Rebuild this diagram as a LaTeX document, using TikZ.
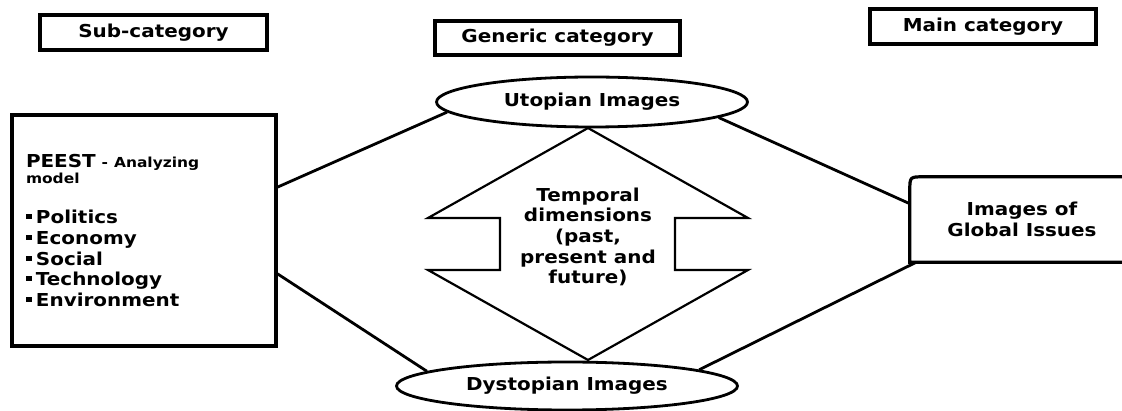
\documentclass[tikz,border=0pt]{standalone}
\usepackage{fontspec}
\setmainfont{DejaVu Sans}[FakeStretch=1.12]
\usetikzlibrary{shapes.geometric}
\newcommand{\bul}{\rule[4.5pt]{6pt}{5pt}\hspace{4pt}}
\newcommand{\smalltxt}{\fontsize{13.8}{16}\selectfont}
\begin{document}
\begin{tikzpicture}
  [x=1pt,y=-1pt,
   every node/.style={font=\fontsize{17.8}{20.6}\selectfont\bfseries,inner sep=0pt},
   catbox/.style={draw,line width=3.2pt,minimum height=35pt},
   image/.style={draw,ellipse,line width=2.8pt},
   link/.style={line width=2.8pt}]
  \useasboundingbox (0,0) rectangle (1122,411);
  \node (sub)     [catbox,minimum width=227pt] at (153.5,32.5) {Sub-category};
  \node (generic) [catbox,minimum width=245pt,minimum height=34pt] at (557.5,38) {Generic category};
  \node (main)    [catbox,minimum width=226pt] at (983,26.5) {Main category};
  \node (utopia)   [image,minimum width=311pt,minimum height=50pt] at (592,102) {Utopian Images};
  \node (dystopia) [image,minimum width=341pt,minimum height=48pt] at (567,386) {Dystopian Images};
  \node (peest) [draw,line width=3.2pt,minimum width=264pt,minimum height=231pt,
                 text width=236pt,align=left] at (144,230.5)
    {PEEST {\smalltxt - Analyzing}\\[-4.5pt]{\smalltxt model}\\[19.5pt]
     \bul Politics\\ \bul Economy\\ \bul Social\\ \bul Technology\\ \bul Environment};
  \node (global) [minimum width=224pt,minimum height=85pt,align=center] at (1022,219.5)
    {Images of\\Global Issues};
  \draw[line width=3.2pt] (global.south west) -- ([yshift=-14pt]global.north west)
    .. controls (global.north west) .. ([xshift=14pt]global.north west)
    -- (global.north east) -- ([yshift=14pt]global.south east)
    .. controls (global.south east) .. ([xshift=-14pt]global.south east) -- cycle;
  % double arrow between the two images
  \draw[line width=2.2pt] (588,128) -- (748,218) -- (675,218) -- (675,270) -- (748,270)
    -- (588,360) -- (428,270) -- (500,270) -- (500,218) -- (428,218) -- cycle;
  \node (temporal) [align=center] at (588,237)
    {Temporal\\dimensions\\(past,\\present and\\future)};

\foreach \from/\to in
{peest.18/utopia.184, peest.-18/dystopia.174, global.172/utopia.-7, global.202/dystopia.7}
    \draw[link] (\from) -- (\to);
\end{tikzpicture}
\end{document}
